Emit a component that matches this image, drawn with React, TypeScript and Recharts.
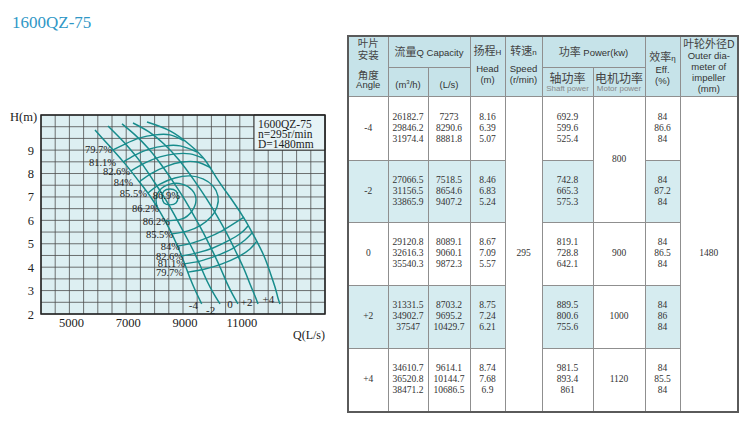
import React from 'react';
import { ComposedChart, Line, Scatter, XAxis, YAxis, CartesianGrid, ReferenceArea } from 'recharts';

// ---------- chart data (Q in L/s, H in m) ----------
const curveM4 = [[5901,9.86],[6218,9.43],[6535,9.01],[6993,8.37],[7415,7.72],[7838,7.04],[8190,6.36],[8507,5.67],[8789,4.95],[9035,4.22],[9246,3.54],[9458,2.94],[9658,2.43]];
const curveM2 = [[6359,10.03],[6746,9.56],[7134,9.05],[7556,8.41],[7944,7.72],[8331,7.0],[8683,6.27],[9000,5.55],[9317,4.82],[9598,4.09],[9845,3.41],[10091,2.85],[10303,2.43]];
const curve0 = [[6852,10.12],[7310,9.65],[7767,9.09],[8190,8.45],[8613,7.72],[9000,7.0],[9352,6.27],[9704,5.5],[10021,4.73],[10303,4.01],[10549,3.32],[10760,2.81],[10936,2.43]];
const curveP2 = [[7239,10.16],[7803,9.78],[8331,9.26],[8859,8.58],[9387,7.72],[9810,6.96],[10197,6.19],[10549,5.42],[10866,4.65],[11148,3.92],[11359,3.28],[11535,2.77],[11641,2.43]];
const curveP4 = [[7732,10.2],[8542,9.82],[9246,9.22],[9774,8.58],[10232,7.72],[10725,6.87],[11183,6.02],[11535,5.25],[11852,4.48],[12063,3.79],[12239,3.15],[12345,2.68],[12415,2.43]];

const eff797Up = [[6535,9.01],[6958,9.26],[7486,9.52],[8014,9.65],[8542,9.65],[9035,9.39]];
const eff811Up = [[6887,8.49],[7310,8.79],[7838,9.05],[8366,9.18],[8894,9.18],[9493,8.92]];
const eff826Up = [[7169,8.11],[7662,8.45],[8190,8.71],[8718,8.84],[9246,8.84],[9704,8.66]];
const eff84Up = [[7451,7.64],[7908,8.02],[8436,8.32],[8965,8.49],[9493,8.49],[9986,8.24]];
const eff855Loop = [[7767,7.17],[8190,7.55],[8718,7.81],[9246,7.9],[9704,7.77],[10056,7.47],[10232,7.04],[10197,6.57],[9986,6.14],[9634,5.8],[9176,5.55],[8613,5.42]];
const eff862Loop = [[8120,6.49],[8049,6.87],[8190,7.3],[8542,7.55],[8965,7.55],[9317,7.3],[9458,6.87],[9317,6.4],[8965,6.06],[8366,5.97]];
const eff869Loop = [[8260,7.0],[8331,7.25],[8542,7.34],[8753,7.25],[8824,7.0],[8753,6.74],[8542,6.66],[8331,6.74],[8260,7.0]];
const eff84Low = [[8789,4.9],[9317,5.03],[9845,5.25],[10373,5.55],[10831,5.89],[11148,6.14]];
const eff826Low = [[8929,4.48],[9493,4.61],[10056,4.82],[10584,5.12],[11042,5.46],[11288,5.76]];
const eff811Low = [[9035,4.14],[9598,4.26],[10162,4.48],[10725,4.78],[11183,5.16],[11429,5.46]];
const eff797Low = [[9176,3.79],[9774,3.92],[10373,4.14],[10936,4.44],[11359,4.78],[11605,5.12]];

const effLabelText = ['79.7%','81.1%','82.6%','84%','85.5%','86.9%','86.2%','86.2%','85.5%','84%','82.6%','81.1%','79.7%'];
const effLabelQ = [6500,6641,7134,7239,7732,8894,8155,8542,8648,8894,9000,9070,9000];
const effLabelH = [9.01,8.49,8.11,7.64,7.17,7.08,6.49,5.97,5.42,4.9,4.48,4.14,3.79];

const angleNames = ['-4','-2','0','+2','+4'];
const angleLabelQ = [9363,9975,10655,11243,12003];
const angleLabelH = [2.38,2.17,2.43,2.53,2.63];

const xTicks = [4000,4500,5000,5500,6000,6500,7000,7500,8000,8500,9000,9500,10000,10500,11000,11500,12000,12500,13000,13500,14000];
const xLabelTicks = [5000,7000,9000,11000];
const yTicks = [2,2.5,3,3.5,4,4.5,5,5.5,6,6.5,7,7.5,8,8.5,9,9.5,10,10.5];
const yLabelTicks = [2,3,4,5,6,7,8,9];

// ---------- table data ----------
const tableAngles = ['-4','-2','0','+2','+4'];
const capM3h = [[26182.7,29846.2,31974.4],[27066.5,31156.5,33865.9],[29120.8,32616.3,35540.3],[31331.5,34902.7,37547],[34610.7,36520.8,38471.2]];
const capLs = [[7273,8290.6,8881.8],[7518.5,8654.6,9407.2],[8089.1,9060.1,9872.3],[8703.2,9695.2,10429.7],[9614.1,10144.7,10686.5]];
const headM = [[8.16,6.39,5.07],[8.46,6.83,5.24],[8.67,7.09,5.57],[8.75,7.24,6.21],[8.74,7.68,6.9]];
const shaftPower = [[692.9,599.6,525.4],[742.8,665.3,575.3],[819.1,728.8,642.1],[889.5,800.6,755.6],[981.5,893.4,861]];
const motorPower = [800, null, 900, 1000, 1120];
const effPct = [[84,86.6,84],[84,87.2,84],[84,86.5,84],[84,86,84],[84,85.5,84]];
const speed = 295;
const diameter = 1480;

// ---------- styles ----------
const SERIF = '"Liberation Serif", "Times New Roman", serif';
const SANS = '"Liberation Sans", Arial, sans-serif';
const CJK = '"Noto Sans CJK SC", "Noto Sans CJK TC", sans-serif';
const TEAL = '#178c8c';

const toPts = (arr: number[][]) => arr.map(([q, h]) => ({ q, h }));
const headCurves = [curveM4, curveM2, curve0, curveP2, curveP4];
const effCurves = [eff797Up, eff811Up, eff826Up, eff84Up, eff855Loop, eff862Loop, eff869Loop, eff84Low, eff826Low, eff811Low, eff797Low];
const effLabels = effLabelText.map((t, i) => ({ q: effLabelQ[i], h: effLabelH[i], t }));
const angleLabels = angleNames.map((t, i) => ({ q: angleLabelQ[i], h: angleLabelH[i], t }));

const XTick = (p: any) => {
  const v = p.payload.value;
  if (!xLabelTicks.includes(v)) return <g />;
  return <text x={p.x + 2} y={p.y + 12.5} textAnchor="middle" fontFamily={SERIF} fontSize={12.5} fill="#222">{v}</text>;
};
const YTick = (p: any) => {
  const v = p.payload.value;
  if (!yLabelTicks.includes(v)) return <g />;
  return <text x={p.x - 7} y={p.y + 4.5} textAnchor="end" fontFamily={SERIF} fontSize={12.5} fill="#222">{v}</text>;
};
const EffLabel = (p: any) => (
  <text x={p.cx} y={p.cy + 3.6} textAnchor="end" fontFamily={SERIF} fontSize={10.5} fill="#222">{p.payload.t}</text>
);
const AngleLabel = (p: any) => (
  <text x={p.cx} y={p.cy + 4} textAnchor="middle" fontFamily={SERIF} fontSize={11} fill="#222">{p.payload.t}</text>
);

function Chart() {
  return (
    <div style={{ position: 'absolute', left: 0, top: 100 }}>
      <ComposedChart width={340} height={250} margin={{ top: 15, right: 15, bottom: 16, left: 0 }}>
        <CartesianGrid fill="#ddeff2" fillOpacity={1} stroke="#4d4d4d" strokeWidth={0.8} />
        <XAxis type="number" dataKey="q" domain={[4000, 14000]} ticks={xTicks} interval={0} tick={XTick}
          tickLine={false} axisLine={false} tickSize={0} tickMargin={0} height={20} allowDataOverflow />
        <YAxis type="number" dataKey="h" domain={[2, 10.5]} ticks={yTicks} interval={0} tick={YTick}
          tickLine={false} axisLine={false} tickSize={0} tickMargin={0} width={41} allowDataOverflow />
        <ReferenceArea x1={11500} x2={14000} y1={9} y2={10.5} fill="#e6f3f6" fillOpacity={1} stroke="#333" strokeWidth={1} />
        {headCurves.map((c, i) => (
          <Line key={'h' + i} data={toPts(c)} dataKey="h" type="natural" stroke={TEAL} strokeWidth={1.5}
            dot={false} activeDot={false} isAnimationActive={false} />
        ))}
        {effCurves.map((c, i) => (
          <Line key={'e' + i} data={toPts(c)} dataKey="h" type="natural" stroke={TEAL} strokeWidth={1.4}
            dot={false} activeDot={false} isAnimationActive={false} />
        ))}
        <Scatter data={effLabels} dataKey="h" shape={EffLabel} isAnimationActive={false} />
        <Scatter data={angleLabels} dataKey="h" shape={AngleLabel} isAnimationActive={false} />
        <ReferenceArea x1={4000} x2={14000} y1={2} y2={10.5} fill="none" stroke="#222" strokeWidth={1.5} />
      </ComposedChart>
    </div>
  );
}

function Overlay() {
  return (
    <svg width={750} height={429} style={{ position: 'absolute', left: 0, top: 0, pointerEvents: 'none' }}>
      <text x={12} y={28} fontFamily={SERIF} fontSize={17} fill="#2f97c6">1600QZ-75</text>
      <text x={10} y={121} fontFamily={SERIF} fontSize={12.5} fill="#222">H(m)</text>
      <text x={293} y={339} fontFamily={SERIF} fontSize={12} fill="#222">Q(L/s)</text>
      <text x={258} y={127.5} fontFamily={SERIF} fontSize={11.5} fill="#222">1600QZ-75</text>
      <text x={258} y={137.5} fontFamily={SERIF} fontSize={11.5} fill="#222">n=295r/min</text>
      <text x={258} y={147.7} fontFamily={SERIF} fontSize={11.5} fill="#222">D=1480mm</text>
    </svg>
  );
}

const colW = [40, 40, 42, 35, 37, 51, 52, 35, 58];
const bodyRowH = [64, 62, 63, 63, 64];
const hdrBg = '#c6e3e9';
const blueBg = '#d6ecf0';
const bd = '1px solid #8f8f8f';
const td = (bg: string, extra: React.CSSProperties = {}): React.CSSProperties => ({
  border: bd, padding: 0, textAlign: 'center', verticalAlign: 'middle', color: '#333', background: bg,
  fontSize: 9, lineHeight: '10px', ...extra,
});
const cjk = (s: number, lh: number): React.CSSProperties => ({ fontFamily: CJK, fontSize: s, lineHeight: lh + 'px', color: '#444' });
const en = (s: number, lh: number): React.CSSProperties => ({ fontFamily: SANS, fontSize: s, lineHeight: lh + 'px', color: '#333' });
const numStyle: React.CSSProperties = { fontFamily: SERIF, fontSize: 9.5, lineHeight: '11px', color: '#333' };

const Lines = ({ vals }: { vals: number[] }) => (
  <div style={numStyle}>{vals.map((v, i) => <div key={i}>{v}</div>)}</div>
);

function DataTable() {
  return (
    <table style={{ position: 'absolute', left: 347, top: 35, width: 390, borderCollapse: 'collapse', tableLayout: 'fixed', border: '2px solid #5a5a5a', fontSize: 9, lineHeight: '10px' }}>
      <colgroup>{colW.map((w, i) => <col key={i} style={{ width: w }} />)}</colgroup>
      <tbody>
        <tr style={{ height: 31 }}>
          <td rowSpan={2} style={td(hdrBg, { verticalAlign: 'top' })}>
            <div style={{ height: 53, display: 'flex', flexDirection: 'column', justifyContent: 'space-between', paddingTop: 0 }}>
              <div style={cjk(10.5, 12)}>叶片<br />安装</div>
              <div><div style={cjk(10.5, 11.5)}>角度</div><div style={en(9.5, 10)}>Angle</div></div>
            </div>
          </td>
          <td colSpan={2} style={td(hdrBg)}>
            <span style={cjk(11, 14)}>流量</span><span style={en(9.5, 14)}>Q Capacity</span>
          </td>
          <td rowSpan={2} style={td(hdrBg, { verticalAlign: 'top', paddingTop: 6 })}>
            <div style={cjk(11, 14)}>扬程<span style={en(8, 14)}>H</span></div>
            <div style={{ ...en(9.5, 10.5), marginTop: 4 }}>Head</div>
            <div style={en(9.5, 10.5)}>(m)</div>
          </td>
          <td rowSpan={2} style={td(hdrBg, { verticalAlign: 'top', paddingTop: 6 })}>
            <div style={cjk(11, 14)}>转速<span style={en(8, 14)}>n</span></div>
            <div style={{ ...en(9.5, 10.5), marginTop: 4 }}>Speed</div>
            <div style={en(9.5, 10.5)}>(r/min)</div>
          </td>
          <td colSpan={2} style={td(hdrBg)}>
            <span style={cjk(11, 14)}>功率 </span><span style={en(9.5, 14)}>Power(kw)</span>
          </td>
          <td rowSpan={2} style={td(hdrBg, { verticalAlign: 'top', paddingTop: 13 })}>
            <div style={cjk(11, 12)}>效率<span style={en(8, 12)}>η</span></div>
            <div style={en(9.5, 10.5)}>Eff.</div>
            <div style={en(9.5, 10.5)}>(%)</div>
          </td>
          <td rowSpan={2} style={td(hdrBg, { verticalAlign: 'top', paddingTop: 1 })}>
            <div style={cjk(11, 11)}>叶轮外径<span style={en(10, 11)}>D</span></div>
            <div style={en(9.5, 11)}>Outer dia-</div>
            <div style={en(9.5, 11)}>meter of</div>
            <div style={en(9.5, 11)}>impeller</div>
            <div style={en(9.5, 11)}>(mm)</div>
          </td>
        </tr>
        <tr style={{ height: 29 }}>
          <td style={td(hdrBg, { verticalAlign: 'top', paddingTop: 12 })}>
            <div style={en(9.5, 10)}>(m<span style={{ fontSize: 6, lineHeight: 0, verticalAlign: '4px' }}>3</span>/h)</div>
          </td>
          <td style={td(hdrBg, { verticalAlign: 'top', paddingTop: 12 })}>
            <div style={en(9.5, 10)}>(L/s)</div>
          </td>
          <td style={td(hdrBg, { verticalAlign: 'top', paddingTop: 3 })}>
            <div style={cjk(12, 13)}>轴功率</div>
            <div style={{ ...en(8, 9), color: '#888' }}>Shaft power</div>
          </td>
          <td style={td(hdrBg, { verticalAlign: 'top', paddingTop: 3 })}>
            <div style={cjk(12, 13)}>电机功率</div>
            <div style={{ ...en(8, 9), color: '#888' }}>Motor power</div>
          </td>
        </tr>
        {tableAngles.map((a, i) => {
          const bg = i % 2 === 1 ? blueBg : '#ffffff';
          return (
            <tr key={a} style={{ height: bodyRowH[i] }}>
              <td style={td(bg)}><div style={numStyle}>{a}</div></td>
              <td style={td(bg)}><Lines vals={capM3h[i]} /></td>
              <td style={td(bg)}><Lines vals={capLs[i]} /></td>
              <td style={td(bg)}><Lines vals={headM[i]} /></td>
              {i === 0 && <td rowSpan={5} style={td('#ffffff')}><div style={numStyle}>{speed}</div></td>}
              <td style={td(bg)}><Lines vals={shaftPower[i]} /></td>
              {motorPower[i] !== null && (
                <td rowSpan={i === 0 ? 2 : 1} style={td('#ffffff')}><div style={numStyle}>{motorPower[i]}</div></td>
              )}
              <td style={td(bg)}><Lines vals={effPct[i]} /></td>
              {i === 0 && <td rowSpan={5} style={td('#ffffff')}><div style={numStyle}>{diameter}</div></td>}
            </tr>
          );
        })}
      </tbody>
    </table>
  );
}

export default function App() {
  return (
    <div style={{ position: 'absolute', left: 0, top: 0, width: 750, height: 429, background: '#fff', overflow: 'hidden' }}>
      <Chart />
      <DataTable />
      <Overlay />
    </div>
  );
}
